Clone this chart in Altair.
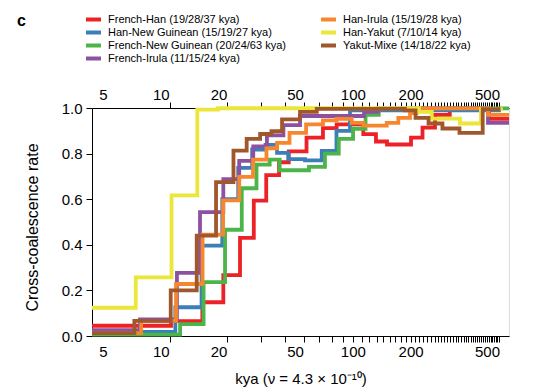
import altair as alt
import pandas as pd

# ---------------- data ----------------
series_names = [
    "French-Han (19/28/37 kya)",
    "Han-New Guinean (15/19/27 kya)",
    "French-New Guinean (20/24/63 kya)",
    "French-Irula (11/15/24 kya)",
    "Han-Irula (15/19/28 kya)",
    "Han-Yakut (7/10/14 kya)",
    "Yakut-Mixe (14/18/22 kya)",
]
series_colors = ["#EC2227", "#3A7FB8", "#4BB549", "#8C52A1", "#F6872F", "#EBE63A", "#A0572C"]

french_han_t = [4.38, 11.3, 16.45, 21.16, 25.85, 30.5, 35.4, 41.3, 46.4, 57.4, 69.9, 82.4,
                113.4, 132, 150.7, 201, 230.7, 268, 320, 512, 651]
french_han_v = [0.045, 0.065, 0.148, 0.267, 0.43, 0.594, 0.706, 0.762, 0.81, 0.87, 0.912, 0.928,
                0.885, 0.853, 0.84, 0.87, 0.914, 0.97, 0.997, 0.952, 0.952]

han_newguinean_t = [4.38, 11.9, 16.3, 20.9, 25.3, 29.9, 35.1, 40.3, 46.1, 56.4, 68.9, 82.2, 96.7, 591]
han_newguinean_v = [0.018, 0.126, 0.396, 0.6, 0.737, 0.818, 0.838, 0.803, 0.776, 0.77, 0.812, 0.9, 0.99, 0.99]

french_newguinean_t = [4.38, 12.6, 16.7, 21.6, 26.4, 31.5, 36.9, 41.6, 59.1, 71.6, 84.5, 100.3, 116.5, 136.5, 651]
french_newguinean_v = [0.006, 0.052, 0.236, 0.466, 0.648, 0.752, 0.774, 0.727, 0.742, 0.8, 0.865, 0.909, 0.97, 0.998, 0.998]

french_irula_t = [4.38, 7.79, 12.13, 16.0, 21.16, 25.6, 30.3, 35.7, 43.5, 53.1, 114.4, 135.3, 506, 651]
french_irula_v = [0.026, 0.073, 0.277, 0.543, 0.688, 0.768, 0.832, 0.88, 0.925, 0.965, 0.983, 0.998, 0.935, 0.935]

han_irula_t = [4.38, 7.9, 12.0, 16.5, 21.1, 25.6, 30.2, 35.5, 40.3, 46.8, 57.1, 69.9, 82.4, 98.7,
               113.4, 150.2, 172.6, 198.6, 214.7, 506, 651]
han_irula_v = [0.013, 0.066, 0.228, 0.445, 0.595, 0.698, 0.774, 0.823, 0.847, 0.891, 0.928, 0.946, 0.952, 0.935,
               0.923, 0.935, 0.957, 0.978, 0.998, 0.97, 0.97]

han_yakut_t = [4.38, 7.40, 11.37, 15.49, 19.86, 221, 257.6, 361.6, 465, 605]
han_yakut_v = [0.124, 0.257, 0.617, 0.993, 0.999, 0.983, 0.953, 0.932, 0.995, 0.995]

yakut_mixe_t = [4.38, 7.28, 11.26, 15.38, 19.39, 23.9, 28.0, 32.9, 37.7, 42.8, 53.1, 64.9,
                187, 212.2, 248, 293, 359.4, 475, 588]
yakut_mixe_v = [0.013, 0.066, 0.2, 0.44, 0.675, 0.813, 0.865, 0.886, 0.898, 0.95, 0.983, 0.996,
                0.99, 0.957, 0.932, 0.91, 0.891, 0.995, 0.995]

x_label_values = [5, 10, 20, 50, 100, 200, 500]
tick_unit = 11.1
x_tick_values = [round(k * tick_unit, 2) for k in range(1, 53)]
y_tick_values = [0.0, 0.2, 0.4, 0.6, 0.8, 1.0]
x_domain = [4.38, 651]

# ---------------- table ----------------
all_t = [french_han_t, han_newguinean_t, french_newguinean_t, french_irula_t,
         han_irula_t, han_yakut_t, yakut_mixe_t]
all_v = [french_han_v, han_newguinean_v, french_newguinean_v, french_irula_v,
         han_irula_v, han_yakut_v, yakut_mixe_v]
rows = []
for order, (name, ts, vs) in enumerate(zip(series_names, all_t, all_v)):
    for t, v in zip(ts, vs):
        rows.append({"s": name, "t": t, "v": v, "o": order})
df = pd.DataFrame(rows)

FONT = "Liberation Sans"
label_test = "indexof([5,10,20,50,100,200,500], datum.value) >= 0"
label_expr = label_test + " ? '' + datum.value : ''"

xscale = alt.Scale(type="log", domain=x_domain, nice=False)
yscale = alt.Scale(domain=[0, 1], nice=False, zero=False)


def x_axis(orient, title, pad):
    kw = dict(
        orient=orient,
        values=x_tick_values + x_label_values,
        labelExpr=label_expr,
        tickOpacity={"condition": {"test": label_test, "value": 0}, "value": 1},
        labelOverlap=False,
        labelFlush=False,
        labelBound=False,
        tickSize=6,
        tickColor="black",
        domainColor="black",
        labelColor="black",
        labelFont=FONT,
        labelFontSize=15,
        labelPadding=pad,
        grid=False,
    )
    if title:
        kw.update(title=title, titleFont=FONT, titleFontSize=15, titleFontWeight="normal",
                  titleColor="black", titlePadding=12)
    else:
        kw.update(title=None)
    return alt.Axis(**kw)


top_layer = alt.Chart(df).mark_point(opacity=0).encode(
    x=alt.X("t:Q", scale=xscale, axis=x_axis("top", None, 0)),
)

lines = alt.Chart(df).mark_line(
    interpolate="step-after", strokeWidth=3.8, strokeJoin="miter", strokeCap="butt"
).encode(
    x=alt.X("t:Q", scale=xscale, axis=x_axis("bottom", "kya (ν = 4.3 × 10⁻¹⁰)", 2)),
    y=alt.Y(
        "v:Q",
        scale=yscale,
        axis=alt.Axis(
            values=y_tick_values, format=".1f", tickSize=6, tickColor="black",
            domainColor="black", labelColor="black", labelFont=FONT, labelFontSize=15,
            labelPadding=4, grid=False, title="Cross-coalescence rate", titleFont=FONT,
            titleFontSize=16, titleFontWeight="normal", titleColor="black", titlePadding=21,
            titleY=119,
        ),
    ),
    color=alt.Color(
        "s:N",
        scale=alt.Scale(domain=series_names, range=series_colors),
        legend=alt.Legend(
            title=None, orient="none", legendX=-8, legendY=-95, columns=2,
            columnPadding=33, rowPadding=0, symbolType="stroke", symbolSize=225,
            symbolStrokeWidth=4, labelFont=FONT, labelFontSize=11, labelOffset=5,
            labelColor="black", clipHeight=13, symbolOpacity=1, labelLimit=400,
        ),
    ),
    order="o:Q",
)

chart = (
    alt.layer(top_layer, lines)
    .resolve_axis(x="independent")
    .properties(
        width=417,
        height=228,
        autosize=alt.AutoSizeParams(type="none"),
        padding={"left": 84, "top": 100, "right": 24, "bottom": 60},
        title=alt.TitleParams(
            "c", anchor="start", frame="group", dx=-75, dy=8, offset=-8, font=FONT,
            fontSize=16, fontWeight="bold", color="black",
        ),
    )
    .configure_view(stroke=None)
    .configure(background="white")
)

chart.save("out.html", embed_options={"renderer": "svg", "actions": False})
